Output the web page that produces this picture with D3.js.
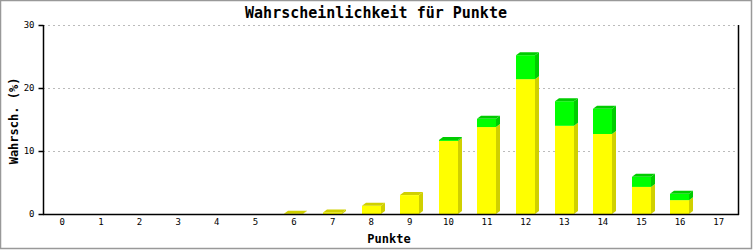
<!DOCTYPE html>
<html lang="de">
<head>
<meta charset="UTF-8">
<title>Wahrscheinlichkeit für Punkte</title>
<script src="https://d3js.org/d3.v7.min.js"></script>
<style>
    body { margin: 0; background: #fff; }
    text { font-family: "DejaVu Sans Mono", "Liberation Mono", monospace; fill: #000; }
</style>
</head>
<body>
<svg width="753" height="250"></svg>
<script>
    // data
    var punkte = ["0","1","2","3","4","5","6","7","8","9","10","11","12","13","14","15","16","17"];
    var gelb = [0, 0, 0, 0, 0, 0, 0.05, 0.25, 1.3, 3.0, 11.6, 13.8, 21.4, 14.0, 12.7, 4.3, 2.2, 0];
    var gruen = [0, 0, 0, 0, 0, 0, 0, 0, 0, 0, 0.15, 1.3, 3.8, 3.9, 4.0, 1.6, 1.0, 0];
    var yTicks = [0, 10, 20, 30];

    var svg = d3.select("svg");
    var pLeft = 43, pRight = 738, pTop = 25, pBottom = 214;
    var dx = 4, dy = 3;

    var x = d3.scaleBand().domain(punkte).range([pLeft, pRight]).paddingInner(0.5).paddingOuter(0.25);
    var y = d3.scaleLinear().domain([0, 30]).range([pBottom, pTop]);

    // frame
    svg.append("rect").attr("x", 0.5).attr("y", 0.5).attr("width", 751).attr("height", 248)
        .attr("fill", "none").attr("stroke", "#999").attr("stroke-width", 1.5);

    // grid
    svg.append("g").selectAll("line").data(yTicks.slice(1)).enter().append("line")
        .attr("x1", pLeft).attr("x2", pRight)
        .attr("y1", function (d) { return Math.round(y(d)) + 0.5; })
        .attr("y2", function (d) { return Math.round(y(d)) + 0.5; })
        .attr("stroke", "#bbb").attr("stroke-dasharray", "2,3");

    // bars (pseudo 3d)
    var series = [
        { name: "gelb", vals: gelb, front: "#ffff00", dark: "#d0d000" },
        { name: "gruen", vals: gruen, front: "#00ff00", dark: "#00cc00" }
    ];
    var g = svg.append("g");
    punkte.forEach(function (p, i) {
        var total = gelb[i] + gruen[i];
        if (total <= 0) return;
        var x0 = Math.round(x(p)), x1 = x0 + Math.round(x.bandwidth());
        var base = 0, topSeg = null;
        series.forEach(function (s) {
            var v = s.vals[i];
            if (v <= 0) return;
            var yb = y(base), yt = y(base + v);
            g.append("path")
                .attr("d", "M" + x1 + "," + yt + "L" + (x1 + dx) + "," + (yt - dy) + "L" + (x1 + dx) + "," + (yb - dy) + "L" + x1 + "," + yb + "Z")
                .attr("fill", s.dark);
            g.append("rect").attr("x", x0).attr("y", yt).attr("width", x1 - x0).attr("height", yb - yt)
                .attr("fill", s.front);
            base += v;
            topSeg = s;
        });
        var yt = y(total);
        g.append("path")
            .attr("d", "M" + x0 + "," + yt + "L" + (x0 + dx) + "," + (yt - dy) + "L" + (x1 + dx) + "," + (yt - dy) + "L" + x1 + "," + yt + "Z")
            .attr("fill", topSeg.dark);
    });

    // axes
    svg.append("line").attr("x1", pLeft + 0.5).attr("x2", pLeft + 0.5).attr("y1", pTop).attr("y2", pBottom + 1)
        .attr("stroke", "#000").attr("stroke-width", 1.5);
    svg.append("line").attr("x1", pRight + 0.5).attr("x2", pRight + 0.5).attr("y1", pTop).attr("y2", pBottom + 1)
        .attr("stroke", "#000").attr("stroke-width", 1.5);
    svg.append("line").attr("x1", pLeft).attr("x2", pRight + 1).attr("y1", pBottom + 0.5).attr("y2", pBottom + 0.5)
        .attr("stroke", "#000").attr("stroke-width", 1.5);

    var yAxis = svg.append("g").attr("transform", "translate(" + (pLeft + 0.5) + ",0)")
        .call(d3.axisLeft(y).tickValues(yTicks).tickSize(5).tickPadding(4));
    yAxis.select(".domain").remove();
    yAxis.selectAll("line").attr("stroke", "#000").attr("stroke-width", 1.5);
    yAxis.selectAll("text").style("font-family", "'DejaVu Sans Mono', monospace").style("font-size", "9px");

    var xAxis = svg.append("g").attr("transform", "translate(0," + pBottom + ")")
        .call(d3.axisBottom(x).tickSize(0).tickPadding(5));
    xAxis.select(".domain").remove();
    xAxis.selectAll("text").style("font-family", "'DejaVu Sans Mono', monospace").style("font-size", "9px");

    // titles
    svg.append("text").attr("x", 376).attr("y", 18).attr("text-anchor", "middle")
        .style("font-size", "15px").style("font-weight", "bold").text("Wahrscheinlichkeit für Punkte");
    svg.append("text").attr("x", 389).attr("y", 243).attr("text-anchor", "middle")
        .style("font-size", "12px").style("font-weight", "bold").text("Punkte");
    svg.append("text").attr("transform", "translate(18,121) rotate(-90)").attr("text-anchor", "middle")
        .style("font-size", "12px").style("font-weight", "bold").text("Wahrsch. (%)");
</script>
</body>
</html>
